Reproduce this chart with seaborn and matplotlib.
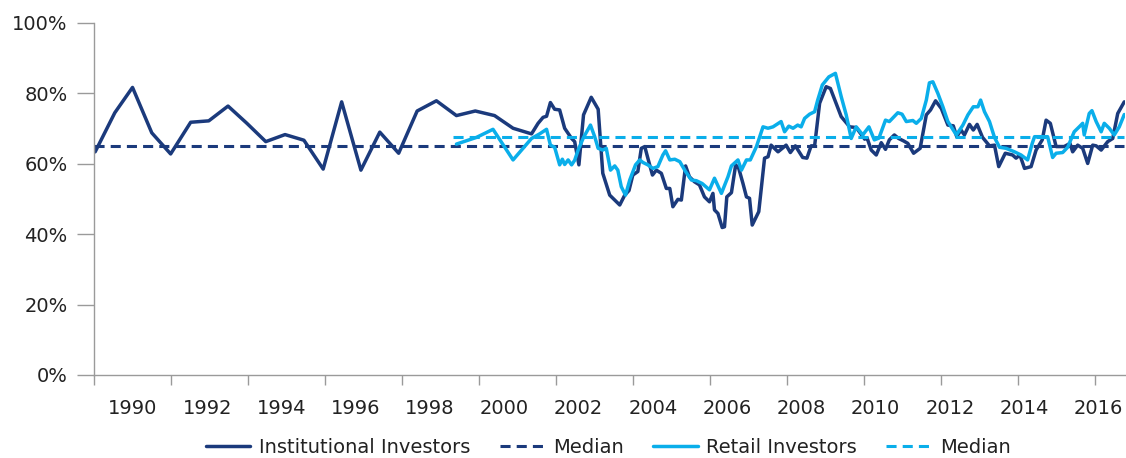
import matplotlib
matplotlib.use("Agg")
import matplotlib.pyplot as plt
import numpy as np
import pandas as pd
import seaborn as sns

### Data (year as decimal, value in %) ###
inst_year = [1989.03, 1989.54, 1990.00, 1990.50, 1990.99, 1991.51, 1991.98, 1992.48, 1992.97, 1993.46,
             1993.96, 1994.45, 1994.95, 1995.43, 1995.93, 1996.42, 1996.91, 1997.39, 1997.89, 1998.41,
             1998.90, 1999.40, 1999.88, 2000.36, 2000.53, 2000.66, 2000.75, 2000.85, 2000.96, 2001.09,
             2001.22, 2001.40, 2001.48, 2001.59, 2001.71, 2001.91, 2002.09, 2002.21, 2002.39, 2002.65,
             2002.78, 2002.89, 2002.99, 2003.12, 2003.21, 2003.30, 2003.38, 2003.50, 2003.60, 2003.73,
             2003.86, 2003.95, 2004.03, 2004.16, 2004.25, 2004.36, 2004.46, 2004.59, 2004.72, 2004.85,
             2004.98, 2005.07, 2005.11, 2005.20, 2005.31, 2005.37, 2005.43, 2005.55, 2005.66, 2005.74,
             2005.85, 2005.94, 2006.02, 2006.09, 2006.26, 2006.41, 2006.50, 2006.58, 2006.76, 2006.97,
             2007.08, 2007.21, 2007.40, 2007.51, 2007.62, 2007.71, 2007.84, 2008.01, 2008.12, 2008.40,
             2008.62, 2008.79, 2009.01, 2009.07, 2009.18, 2009.31, 2009.44, 2009.55, 2009.65, 2009.78,
             2009.89, 2010.02, 2010.13, 2010.28, 2010.45, 2010.61, 2010.72, 2010.85, 2011.00, 2011.17,
             2011.31, 2011.40, 2011.51, 2011.60, 2011.73, 2011.83, 2011.93, 2012.07, 2012.25, 2012.38,
             2012.49, 2012.66, 2012.85, 2012.94, 2013.04, 2013.16, 2013.33, 2013.46, 2013.62, 2013.72,
             2013.83, 2013.98, 2014.19, 2014.34, 2014.41, 2014.54, 2014.67, 2014.80, 2014.93, 2015.02,
             2015.15, 2015.32, 2015.45, 2015.58, 2015.75]
inst_pct = [63.4, 74.5, 81.7, 68.8, 62.8, 71.8, 72.2, 76.4, 71.5, 66.3,
            68.3, 66.7, 58.5, 77.6, 58.2, 69.0, 63.0, 75.0, 77.9, 73.7,
            75.0, 73.7, 70.1, 68.5, 71.5, 73.2, 73.5, 77.4, 75.5, 75.3,
            70.1, 67.2, 66.3, 59.7, 73.9, 78.9, 75.5, 57.3, 51.1, 48.3,
            51.1, 52.4, 56.8, 57.8, 64.4, 64.9, 61.6, 56.8, 58.2, 57.3,
            53.0, 53.0, 47.8, 49.9, 49.7, 59.4, 56.3, 54.9, 54.0, 50.6,
            49.2, 51.6, 46.9, 45.9, 41.9, 42.1, 50.6, 51.8, 59.7, 58.7,
            54.4, 50.6, 50.2, 42.6, 46.4, 61.6, 62.0, 65.3, 63.4, 65.3,
            63.2, 65.1, 61.8, 61.6, 65.1, 65.1, 77.2, 81.9, 81.4, 73.4,
            70.5, 70.3, 67.0, 67.4, 63.9, 62.5, 66.0, 64.1, 66.8, 68.2,
            67.2, 66.5, 65.8, 63.0, 64.4, 73.9, 75.3, 77.9, 75.7, 71.0,
            70.8, 67.7, 69.6, 68.2, 71.2, 69.6, 71.2, 67.5, 65.1, 65.3,
            59.2, 63.0, 62.5, 61.6, 62.5, 58.7, 59.2, 63.9, 66.8, 72.4,
            71.5, 64.9, 64.9, 65.8, 63.4, 65.3, 64.4, 60.1, 65.3, 65.1,
            63.9, 66.3, 67.2, 74.3, 77.6]

retail_year = [1998.41, 1998.93, 1999.36, 1999.88, 2000.36, 2000.57, 2000.75, 2000.85, 2000.96, 2001.09,
               2001.16, 2001.22, 2001.31, 2001.40, 2001.48, 2001.57, 2001.71, 2001.89, 2002.00, 2002.09,
               2002.21, 2002.30, 2002.41, 2002.52, 2002.60, 2002.69, 2002.80, 2002.91, 2003.06, 2003.17,
               2003.25, 2003.38, 2003.51, 2003.64, 2003.77, 2003.84, 2003.95, 2004.08, 2004.21, 2004.36,
               2004.51, 2004.64, 2004.79, 2004.98, 2005.11, 2005.29, 2005.46, 2005.55, 2005.72, 2005.81,
               2005.94, 2006.04, 2006.20, 2006.37, 2006.50, 2006.63, 2006.84, 2006.93, 2007.04, 2007.15,
               2007.27, 2007.36, 2007.45, 2007.58, 2007.71, 2007.79, 2007.91, 2008.08, 2008.25, 2008.40,
               2008.53, 2008.66, 2008.79, 2008.96, 2009.12, 2009.26, 2009.38, 2009.55, 2009.65, 2009.87,
               2009.98, 2010.09, 2010.26, 2010.35, 2010.48, 2010.61, 2010.69, 2010.78, 2010.91, 2011.04,
               2011.17, 2011.39, 2011.56, 2011.69, 2011.83, 2011.95, 2012.02, 2012.12, 2012.25, 2012.38,
               2012.51, 2012.68, 2012.90, 2013.07, 2013.24, 2013.36, 2013.42, 2013.62, 2013.76, 2013.89,
               2013.98, 2014.15, 2014.28, 2014.45, 2014.58, 2014.67, 2014.71, 2014.84, 2014.91, 2015.02,
               2015.15, 2015.23, 2015.36, 2015.49, 2015.62, 2015.75]
retail_pct = [65.6, 67.5, 69.8, 61.1, 67.2, 68.5, 69.8, 65.3, 64.7, 59.7,
              61.3, 59.8, 61.1, 59.7, 61.0, 63.9, 67.5, 71.0, 67.7, 64.4,
              63.9, 64.4, 58.2, 59.4, 58.2, 53.5, 51.1, 55.4, 59.7, 61.1,
              60.4, 59.7, 58.7, 59.2, 62.5, 63.7, 61.1, 61.3, 60.6, 57.8,
              55.4, 55.2, 54.4, 52.6, 55.9, 51.6, 56.3, 59.4, 61.1, 58.2,
              61.1, 61.1, 64.9, 70.5, 70.1, 70.5, 72.0, 69.1, 70.7, 70.1,
              71.0, 70.5, 72.9, 74.1, 74.8, 78.1, 82.4, 84.7, 85.7, 79.1,
              73.9, 67.2, 70.5, 68.2, 70.5, 66.8, 67.3, 72.4, 72.0, 74.5,
              74.1, 72.0, 72.3, 71.5, 72.9, 78.1, 83.0, 83.3, 80.0, 76.2,
              72.0, 68.2, 71.0, 73.9, 76.2, 76.2, 78.1, 74.8, 72.0, 67.5,
              64.7, 64.4, 63.4, 62.5, 61.1, 65.8, 67.7, 67.7, 67.7, 61.8,
              63.0, 63.2, 64.7, 69.1, 70.5, 71.5, 68.2, 74.3, 75.1, 72.0,
              69.1, 71.5, 70.1, 68.2, 70.5, 74.0]

inst_median = 65.0
retail_median = 67.5

year_labels = ['1990', '1992', '1994', '1996', '1998', '2000', '2002', '2004',
               '2006', '2008', '2010', '2012', '2014', '2016']
y_ticks = [0, 20, 40, 60, 80, 100]

### Style ###
navy = '#1b3a7c'
cyan = '#0aaeea'
grey = '#9a9a9a'

sns.set_style('white')
plt.rcParams['font.family'] = ['DejaVu Sans']

df_inst = pd.DataFrame({'year': inst_year, 'pct': inst_pct})
df_retail = pd.DataFrame({'year': retail_year, 'pct': retail_pct})

fig = plt.figure(figsize=(11.26, 4.58), dpi=100)
ax = fig.add_axes([94 / 1126, 1 - 375 / 458, 1 - 94 / 1126 - 0.0005, (375 - 23) / 458])

sns.lineplot(data=df_inst, x='year', y='pct', ax=ax, color=navy, linewidth=2.5,
             label='Institutional Investors', legend=False)
ax.hlines(inst_median, 1989.0, inst_year[-1], colors=navy, linewidth=2.2,
          linestyles=(0, (3.3, 2.0)), label='Median')
sns.lineplot(data=df_retail, x='year', y='pct', ax=ax, color=cyan, linewidth=2.5,
             label='Retail Investors', legend=False)
ax.hlines(retail_median, retail_year[0] - 0.08, retail_year[-1], colors=cyan, linewidth=2.2,
          linestyles=(0, (3.3, 2.0)), label='Median')

ax.set_xlim(1989.0, 2015.78)
ax.set_ylim(0, 100)

# tick marks every two years, labels sit slightly off the marks as in the source
ax.set_xticks(np.arange(1989, 2016, 2))
ax.set_xticklabels([])
ax.set_xticks(np.linspace(1990.01, 2015.08, len(year_labels)), labels=year_labels, minor=True)
ax.tick_params(axis='x', which='major', bottom=True, length=7, width=1, color=grey, direction='out')
ax.tick_params(axis='x', which='minor', bottom=True, length=0, pad=17, labelsize=14, labelcolor='#222222')

ax.set_yticks(y_ticks)
ax.set_yticklabels([f'{v}%' for v in y_ticks])
ax.tick_params(axis='y', left=True, length=12, width=1, color=grey, pad=7, labelsize=14,
               labelcolor='#222222', direction='out')

ax.set_xlabel('')
ax.set_ylabel('')
sns.despine(ax=ax)
for side in ['left', 'bottom']:
    ax.spines[side].set_color(grey)
    ax.spines[side].set_linewidth(1)

handles, labels = ax.get_legend_handles_labels()
fig.legend(handles, labels, loc='lower center', bbox_to_anchor=(0.54, -0.035), ncol=4,
           frameon=False, fontsize=14, handlelength=2.3, handletextpad=0.45,
           columnspacing=1.5, labelcolor='#222222')

fig.savefig('out.png', dpi=100)
